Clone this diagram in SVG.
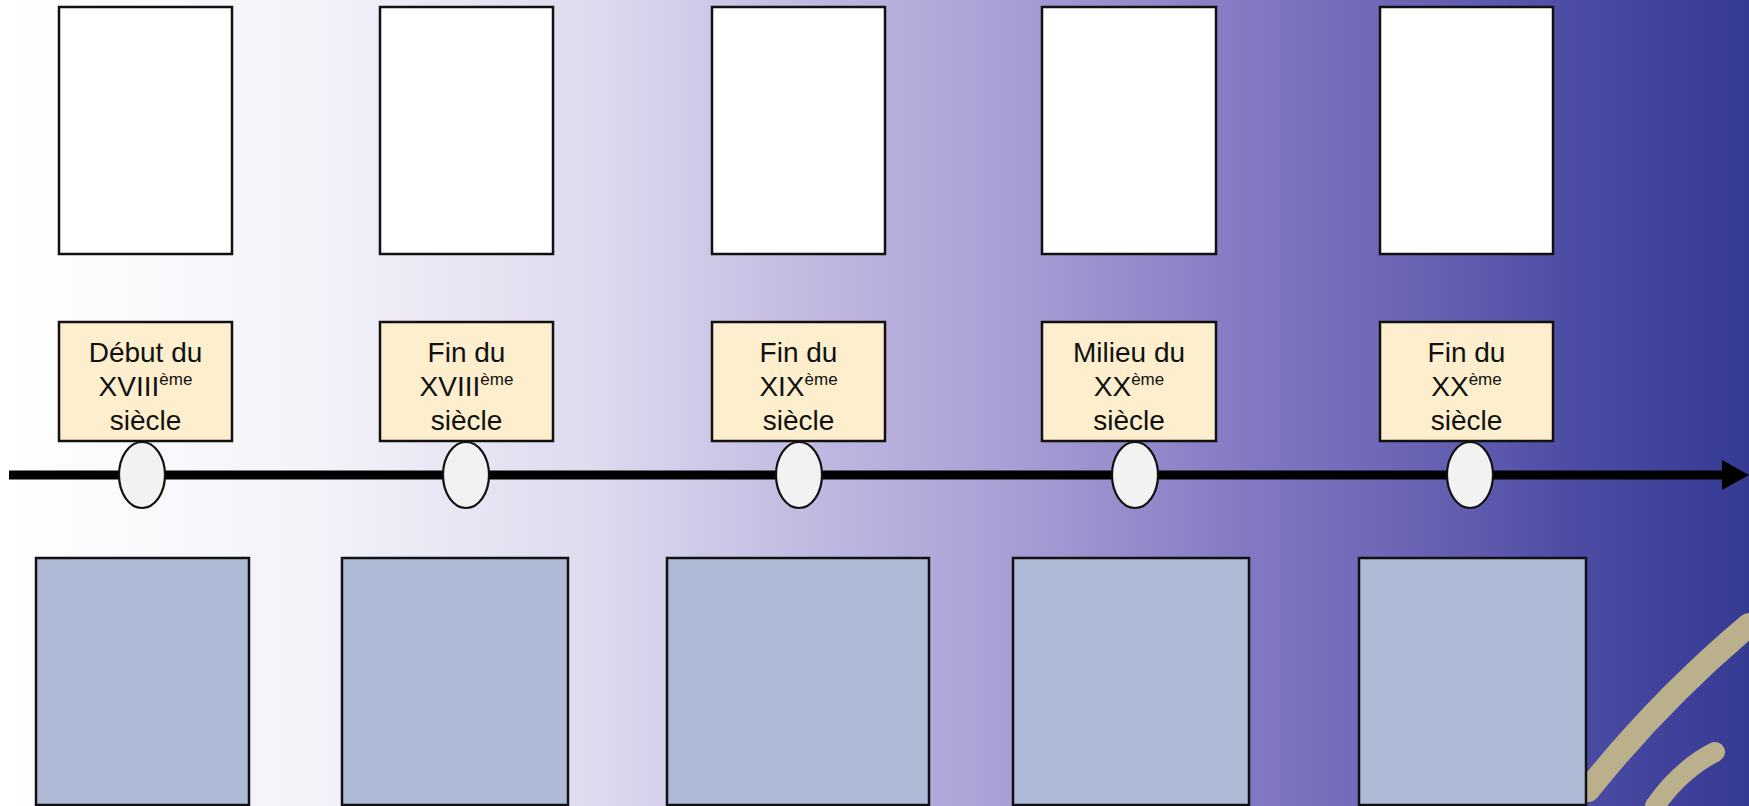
<svg xmlns="http://www.w3.org/2000/svg" width="1749" height="806" viewBox="0 0 1749 806">
  <defs>
    <linearGradient id="bg" x1="0" y1="0" x2="1" y2="0">
      <stop offset="0" stop-color="#ffffff"/>
      <stop offset="0.18" stop-color="#f4f2f9"/>
      <stop offset="0.34" stop-color="#dedaef"/>
      <stop offset="0.48" stop-color="#bdb5df"/>
      <stop offset="0.58" stop-color="#a89ed5"/>
      <stop offset="0.72" stop-color="#8177c2"/>
      <stop offset="0.82" stop-color="#6761b3"/>
      <stop offset="0.9" stop-color="#4c4ca4"/>
      <stop offset="1" stop-color="#353a92"/>
    </linearGradient>
    <style>
      .top { fill: #ffffff; stroke: #111111; stroke-width: 2.5; }
      .lab { fill: #fdefcd; stroke: #111111; stroke-width: 2.5; }
      .bot { fill: #aeb9d6; stroke: #111111; stroke-width: 2.5; }
      .dot { fill: #f2f2f2; stroke: #111111; stroke-width: 2.2; }
      .t { font-family: "Liberation Sans", Arial, sans-serif; font-size: 28px; fill: #111111; text-anchor: middle; }
      .sup { font-size: 17px; }
      .axis { stroke: #000000; stroke-width: 9; fill: none; }
      .swoosh { fill: none; stroke: #bbb08c; stroke-linecap: round; }
    </style>
  </defs>

  <rect x="0" y="0" width="1749" height="806" fill="url(#bg)"/>
  <g id="decor">
    <path class="swoosh" d="M1588,790 Q1660,700 1749,625" stroke-width="24"/>
    <path class="swoosh" d="M1655,806 Q1680,770 1715,752" stroke-width="20"/>
  </g>

  <g id="connectors">
    <line class="axis" x1="9" y1="475" x2="1728" y2="475"/>
    <polygon points="1722,460 1749,475 1722,490" fill="#000000"/>
  </g>

  <g id="node1">
    <rect class="top" x="59" y="7" width="173" height="247"/>
    <rect class="lab" x="59" y="322" width="173" height="119"/>
    <text class="t" x="145.5" y="362">Début du</text>
    <text class="t" x="145.5" y="396">XVIII<tspan class="sup" dy="-11">ème</tspan></text>
    <text class="t" x="145.5" y="430">siècle</text>
    <ellipse class="dot" cx="142" cy="475" rx="23" ry="33"/>
    <rect class="bot" x="36" y="558" width="213" height="247"/>
  </g>

  <g id="node2">
    <rect class="top" x="380" y="7" width="173" height="247"/>
    <rect class="lab" x="380" y="322" width="173" height="119"/>
    <text class="t" x="466.5" y="362">Fin du</text>
    <text class="t" x="466.5" y="396">XVIII<tspan class="sup" dy="-11">ème</tspan></text>
    <text class="t" x="466.5" y="430">siècle</text>
    <ellipse class="dot" cx="466" cy="475" rx="23" ry="33"/>
    <rect class="bot" x="342" y="558" width="226" height="247"/>
  </g>

  <g id="node3">
    <rect class="top" x="712" y="7" width="173" height="247"/>
    <rect class="lab" x="712" y="322" width="173" height="119"/>
    <text class="t" x="798.5" y="362">Fin du</text>
    <text class="t" x="798.5" y="396">XIX<tspan class="sup" dy="-11">ème</tspan></text>
    <text class="t" x="798.5" y="430">siècle</text>
    <ellipse class="dot" cx="799" cy="475" rx="23" ry="33"/>
    <rect class="bot" x="667" y="558" width="262" height="247"/>
  </g>

  <g id="node4">
    <rect class="top" x="1042" y="7" width="174" height="247"/>
    <rect class="lab" x="1042" y="322" width="174" height="119"/>
    <text class="t" x="1129" y="362">Milieu du</text>
    <text class="t" x="1129" y="396">XX<tspan class="sup" dy="-11">ème</tspan></text>
    <text class="t" x="1129" y="430">siècle</text>
    <ellipse class="dot" cx="1135" cy="475" rx="23" ry="33"/>
    <rect class="bot" x="1013" y="558" width="236" height="247"/>
  </g>

  <g id="node5">
    <rect class="top" x="1380" y="7" width="173" height="247"/>
    <rect class="lab" x="1380" y="322" width="173" height="119"/>
    <text class="t" x="1466.5" y="362">Fin du</text>
    <text class="t" x="1466.5" y="396">XX<tspan class="sup" dy="-11">ème</tspan></text>
    <text class="t" x="1466.5" y="430">siècle</text>
    <ellipse class="dot" cx="1470" cy="475" rx="23" ry="33"/>
    <rect class="bot" x="1359" y="558" width="227" height="247"/>
  </g>
</svg>
